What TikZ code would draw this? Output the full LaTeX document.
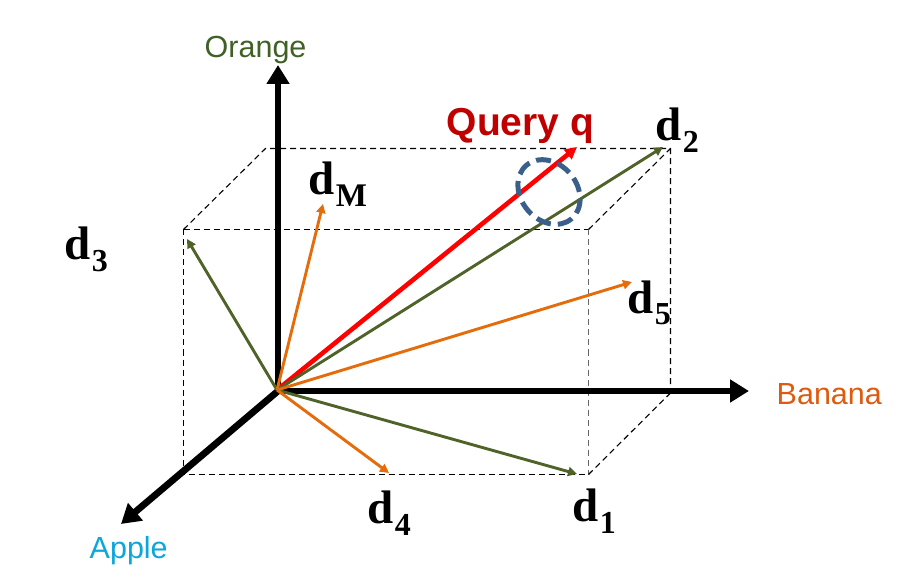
\documentclass[tikz,border=0pt]{standalone}
\usepackage{fontspec}
\setmainfont{Liberation Serif}
\setsansfont{Liberation Sans}
\usetikzlibrary{arrows.meta}
\definecolor{docgreen}{HTML}{4F6228}
\definecolor{docorange}{HTML}{E46C0A}
\definecolor{ringblue}{HTML}{3A5F8B}
\definecolor{querytext}{HTML}{C00000}
\definecolor{orangetext}{HTML}{3F6126}
\definecolor{bananatext}{HTML}{DD5A0F}
\definecolor{appletext}{HTML}{0CA6DA}
\newcommand{\doclabel}[2]{\fontsize{47}{47}\selectfont\bfseries d\kern1.5pt\raisebox{-12pt}{\fontsize{#2}{#2}\selectfont #1}}
\tikzset{
  axisline/.style={line width=6.8pt,-{Triangle[length=19pt,width=22pt]}},
  boxedge/.style={line width=1.1pt,black,dash pattern=on 6pt off 4pt},
  boxedgegrey/.style={boxedge,black!60},
  docgreenarrow/.style={draw=docgreen,line width=2.9pt,-{Triangle[length=9pt,width=9pt]},fill=docgreen},
  docorangearrow/.style={draw=docorange,line width=2.9pt,-{Triangle[length=9pt,width=9pt]},fill=docorange},
  queryarrow/.style={draw=red,line width=4.6pt,-{Triangle[length=12pt,width=12pt]},fill=red},
  doctext/.style={anchor=base west,inner sep=0pt,text=black},
  axistext/.style={anchor=base west,inner sep=0pt,font=\sffamily\fontsize{30.5}{31}\selectfont},
}
\begin{document}
\begin{tikzpicture}[x=1pt,y=-1pt]
\useasboundingbox (0,0) rectangle (903,588);
\coordinate (O) at (277,390);
\coordinate (axC) at (278,391);
\coordinate (ftl) at (183.5,229.5);
\coordinate (ftr) at (588.5,229.5);
\coordinate (fbl) at (183.5,474.5);
\coordinate (fbr) at (588.5,474.5);
\coordinate (btl) at (265.5,148.5);
\coordinate (btr) at (670.5,148.5);
\coordinate (bbr) at (670.5,393);
\coordinate (axO) at (278,65);
\coordinate (axB) at (749,391);
\coordinate (axA) at (121,524);
\coordinate (t1) at (577,474);
\coordinate (t2) at (663,147);
\coordinate (t3) at (187,239);
\coordinate (t4) at (389,473);
\coordinate (t5) at (632,282);
\coordinate (tM) at (323,204);
\coordinate (tq) at (577,147);
\coordinate (ring) at (549,192);
% box
\draw[boxedge] (ftl) -- (ftr);
\draw[boxedge] (ftl) -- (fbl) -- (fbr);
\draw[boxedgegrey] (ftr) -- (fbr);
\draw[boxedge] (ftl) -- (btl) -- (btr) -- (bbr);
\draw[boxedge] (ftr) -- (btr);
\draw[boxedge] (fbr) -- (bbr);
% axes
\draw[axisline] (axC) -- (axO);
\draw[axisline] (axC) -- (axB);
\draw[axisline] (axC) -- (axA);
% vectors
\draw[queryarrow] (O) -- (tq);
\draw[docgreenarrow] (O) -- (t2);
\draw[docgreenarrow] (O) -- (t3);
\draw[docgreenarrow] (O) -- (t1);
\draw[docorangearrow] (O) -- (tM);
\draw[docorangearrow] (O) -- (t5);
\draw[docorangearrow] (O) -- (t4);
% ring
\draw[draw=ringblue,line width=5pt,dash pattern=on 15pt off 7pt,rotate around={-50:(ring)}] (ring) ellipse [x radius=35,y radius=28];
% labels
\node[doctext] (ld1) at (572,521) {\doclabel{1}{32}};
\node[doctext] (ld2) at (655,141) {\doclabel{2}{32}};
\node[doctext] (ld3) at (64,260) {\doclabel{3}{32}};
\node[doctext] (ld4) at (367,523) {\doclabel{4}{32}};
\node[doctext] (ld5) at (627,313) {\doclabel{5}{32}};
\node[doctext] (ldM) at (308,195) {\doclabel{M}{33}};
\node[anchor=base west,inner sep=0pt,text=querytext,font=\sffamily\bfseries\fontsize{39}{39}\selectfont] (lq) at (446.5,136) {Query q};
\node[axistext,text=orangetext] (lo) at (204.5,58) {Orange};
\node[axistext,text=bananatext] (lb) at (776.5,404) {Banana};
\node[axistext,text=appletext] (la) at (89.5,558) {Apple};
\end{tikzpicture}
\end{document}
